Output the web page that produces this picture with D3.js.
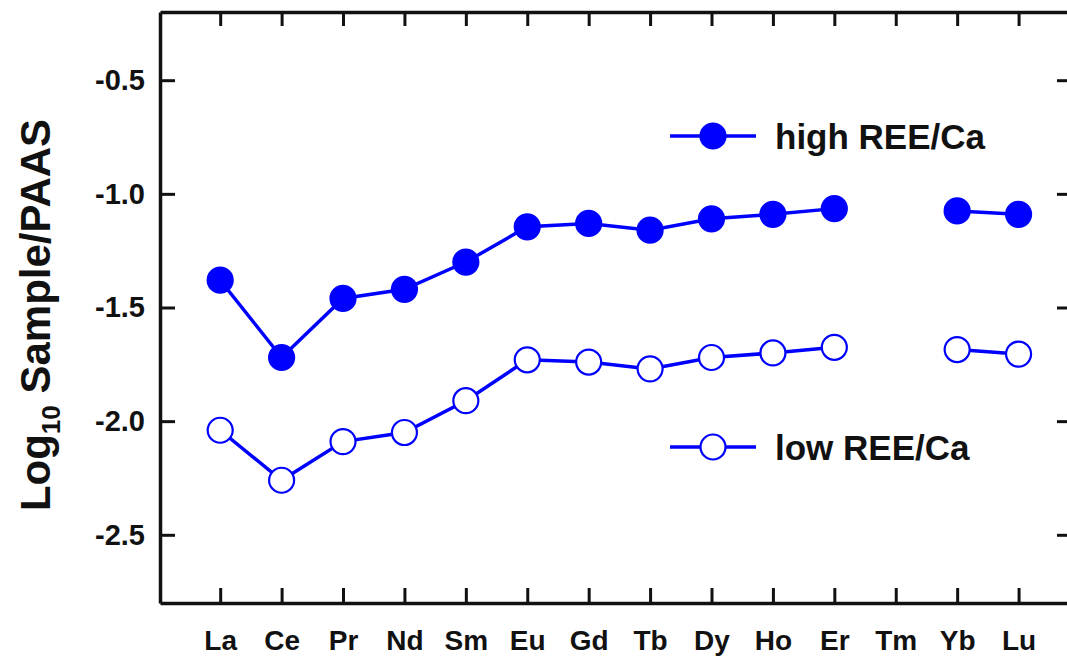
<!DOCTYPE html>
<html>
<head>
<meta charset="utf-8">
<script src="https://cdn.jsdelivr.net/npm/d3@7"></script>
<style>
  body { margin: 0; background: #fff; }
  text { font-family: "Liberation Sans", Arial, sans-serif; font-weight: bold; fill: #111; }
</style>
</head>
<body>
<div id="chart"></div>
<script>
/* DATA */
const elements = ["La","Ce","Pr","Nd","Sm","Eu","Gd","Tb","Dy","Ho","Er","Tm","Yb","Lu"];
// null = no value (Tm)
const highREE = [-1.38,-1.72,-1.46,-1.42,-1.30,-1.145,-1.13,-1.16,-1.11,-1.09,-1.065,null,-1.075,-1.09];
const lowREE  = [-2.04,-2.26,-2.09,-2.05,-1.91,-1.73,-1.74,-1.77,-1.72,-1.70,-1.675,null,-1.685,-1.705];
const yTicks = [-2.5,-2.0,-1.5,-1.0,-0.5];

const width = 1067, height = 659;
const margin = { top: 12, bottom: 56, left: 160, right: -5 };
const blue = "#0000ff";

const svg = d3.select("#chart").append("svg")
  .attr("width", width)
  .attr("height", height);

// scales
const xScale = d3.scaleLinear()
  .domain([-0.98, 13.87])
  .range([margin.left, width - margin.right]);

const yScale = d3.scaleLinear()
  .domain([-2.8, -0.2])
  .range([height - margin.bottom, margin.top]);

const x0 = margin.left, x1 = width - margin.right;
const y0 = height - margin.bottom, y1 = margin.top;

// axes (ticks point inward)
const xIdx = elements.map((d, i) => i);
svg.append("g")
  .attr("transform", `translate(0,${y0})`)
  .call(d3.axisBottom(xScale).tickValues(xIdx).tickSizeInner(-15).tickSizeOuter(0).tickPadding(37)
    .tickFormat(i => elements[i]))
  .call(g => g.selectAll("text").attr("font-size", 28).attr("dy", "0.35em"));

svg.append("g")
  .attr("transform", `translate(0,${y1})`)
  .call(d3.axisTop(xScale).tickValues(xIdx).tickSizeInner(-14).tickSizeOuter(0).tickFormat(""));

svg.append("g")
  .attr("transform", `translate(${x0},0)`)
  .call(d3.axisLeft(yScale).tickValues(yTicks).tickSizeInner(-15).tickSizeOuter(0).tickPadding(15)
    .tickFormat(d3.format(".1f")))
  .call(g => g.selectAll("text").attr("font-size", 29).text(d => d3.format(".1f")(d).replace("−", "-")));

svg.append("g")
  .attr("transform", `translate(${x1},0)`)
  .call(d3.axisRight(yScale).tickValues(yTicks).tickSizeInner(-15).tickSizeOuter(0).tickFormat(""));

svg.selectAll(".domain").attr("stroke", "#111").attr("stroke-width", 3.5);
svg.selectAll(".tick line").attr("stroke", "#111").attr("stroke-width", 3);

// y label
const yl = svg.append("text")
  .attr("transform", `translate(50,315) rotate(-90)`)
  .attr("text-anchor", "middle")
  .attr("font-size", 42);
yl.append("tspan").text("Log");
yl.append("tspan").attr("font-size", 26).attr("dy", 10).text("10");
yl.append("tspan").attr("dy", -10).text(" Sample/PAAS");

// lines
const line = d3.line()
  .defined(d => d.v !== null)
  .x(d => xScale(d.i))
  .y(d => yScale(d.v));

const series = [
  { name: "high REE/Ca", values: highREE, fill: blue, ly: 136 },
  { name: "low REE/Ca", values: lowREE, fill: "#fff", ly: 447 }
];

series.forEach(s => {
  const pts = s.values.map((v, i) => ({ i, v }));
  svg.append("path")
    .attr("d", line(pts))
    .attr("fill", "none")
    .attr("stroke", blue)
    .attr("stroke-width", 3.5);
  svg.append("g").selectAll("circle")
    .data(pts.filter(d => d.v !== null))
    .join("circle")
    .attr("cx", d => xScale(d.i))
    .attr("cy", d => yScale(d.v))
    .attr("r", 12.5)
    .attr("fill", s.fill)
    .attr("stroke", blue)
    .attr("stroke-width", 2.2);

  // legend
  const lg = svg.append("g").attr("transform", `translate(670,${s.ly})`);
  lg.append("line").attr("x1", 0).attr("x2", 86).attr("stroke", blue).attr("stroke-width", 3.5);
  lg.append("circle").attr("cx", 43).attr("r", 12.5)
    .attr("fill", s.fill).attr("stroke", blue).attr("stroke-width", 2.2);
  lg.append("text").attr("x", 105).attr("dy", "0.36em").attr("font-size", 35).text(s.name);
});
</script>
</body>
</html>
